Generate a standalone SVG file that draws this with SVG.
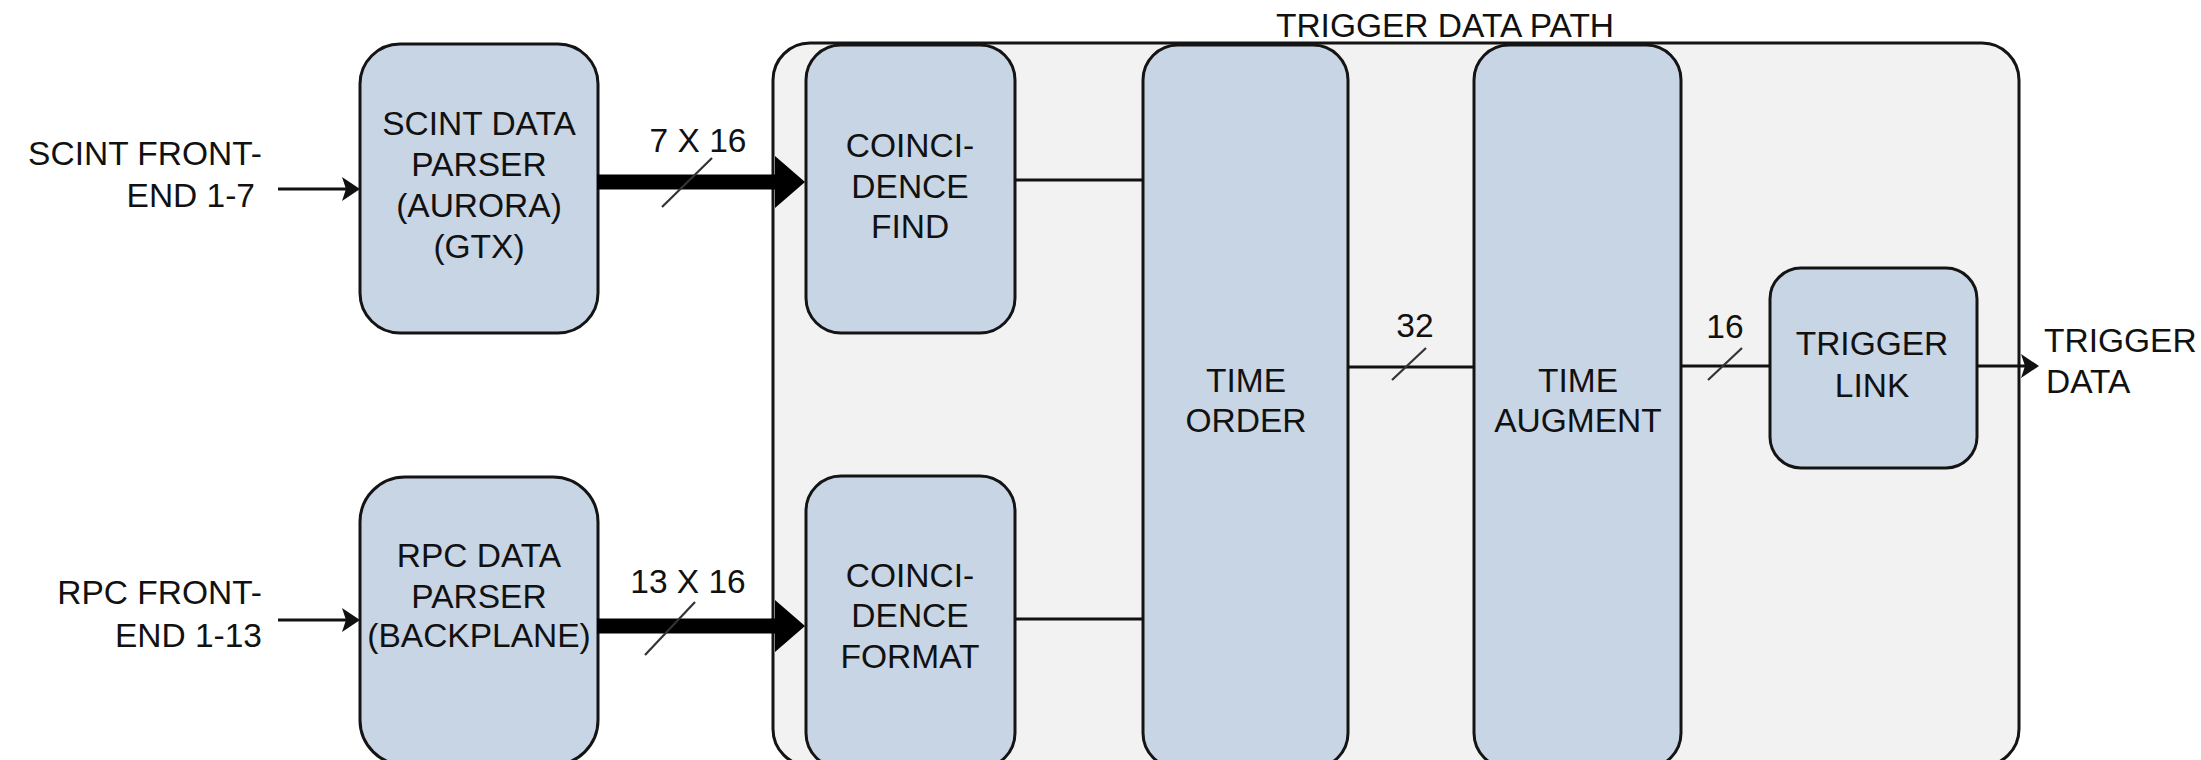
<svg xmlns="http://www.w3.org/2000/svg" width="2201" height="760" viewBox="0 0 2201 760">
<defs>
<style>
.box{fill:#c8d5e5;stroke:#141414;stroke-width:3}
.cont{fill:#f2f2f2;stroke:#141414;stroke-width:3}
.t{font-family:"Liberation Sans",Arial,sans-serif;font-size:33.5px;fill:#111}
.m{text-anchor:middle}
.e{text-anchor:end}
.ln{stroke:#111;stroke-width:3;fill:none}
.thick{stroke:#000;stroke-width:15;fill:none}
.sl{stroke:#333;stroke-width:2.2;fill:none}
</style>
<marker id="ah" markerUnits="userSpaceOnUse" markerWidth="20" markerHeight="24" refX="4" refY="12" orient="auto" overflow="visible">
<path d="M0,0 L18,12 L0,24 L4,12 Z" fill="#111"/>
</marker>
<marker id="big" markerUnits="userSpaceOnUse" markerWidth="32" markerHeight="52" refX="2" refY="26" orient="auto" overflow="visible">
<path d="M0,0 L30,26 L0,52 Z" fill="#000"/>
</marker>
</defs>
<rect width="2201" height="760" fill="#fff"/>

<g id="trigger_data_path">
<rect class="cont" x="773" y="43" width="1246" height="723" rx="37"/>
<text class="t m" x="1445" y="37">TRIGGER DATA PATH</text>
</g>

<g id="scint_input_label">
<text class="t e" x="262" y="165">SCINT FRONT-</text>
<text class="t e" x="255" y="207">END 1-7</text>
</g>
<g id="rpc_input_label">
<text class="t e" x="262" y="604">RPC FRONT-</text>
<text class="t e" x="262" y="647">END 1-13</text>
</g>

<g id="scint_parser">
<rect class="box" x="360" y="44" width="238" height="289" rx="40"/>
<text class="t m" x="479" y="135">SCINT DATA</text>
<text class="t m" x="479" y="176">PARSER</text>
<text class="t m" x="479" y="217">(AURORA)</text>
<text class="t m" x="479" y="258">(GTX)</text>
</g>

<g id="rpc_parser">
<rect class="box" x="360" y="477" width="238" height="288" rx="45"/>
<text class="t m" x="479" y="567">RPC DATA</text>
<text class="t m" x="479" y="608">PARSER</text>
<text class="t m" x="479" y="647">(BACKPLANE)</text>
</g>

<g id="coincidence_find">
<rect class="box" x="806" y="45" width="209" height="288" rx="35"/>
<text class="t m" x="910" y="157">COINCI-</text>
<text class="t m" x="910" y="198">DENCE</text>
<text class="t m" x="910" y="238">FIND</text>
</g>

<g id="coincidence_format">
<rect class="box" x="806" y="476" width="209" height="292" rx="35"/>
<text class="t m" x="910" y="587">COINCI-</text>
<text class="t m" x="910" y="627">DENCE</text>
<text class="t m" x="910" y="668">FORMAT</text>
</g>

<g id="time_order">
<rect class="box" x="1143" y="45" width="205" height="723" rx="35"/>
<text class="t m" x="1246" y="392">TIME</text>
<text class="t m" x="1246" y="432">ORDER</text>
</g>

<g id="time_augment">
<rect class="box" x="1474" y="45" width="207" height="723" rx="35"/>
<text class="t m" x="1578" y="392">TIME</text>
<text class="t m" x="1578" y="432">AUGMENT</text>
</g>

<g id="trigger_link">
<rect class="box" x="1770" y="268" width="207" height="200" rx="31"/>
<text class="t m" x="1872" y="355">TRIGGER</text>
<text class="t m" x="1872" y="397">LINK</text>
</g>

<g id="trigger_output_label">
<text class="t" x="2044" y="352">TRIGGER</text>
<text class="t" x="2046" y="393">DATA</text>
</g>

<g id="connectors">
<line class="ln" x1="278" y1="189" x2="346" y2="189" marker-end="url(#ah)"/>
<line class="ln" x1="278" y1="620" x2="346" y2="620" marker-end="url(#ah)"/>
<line class="thick" x1="597" y1="182" x2="777" y2="182" marker-end="url(#big)"/>
<line class="thick" x1="597" y1="626" x2="777" y2="626" marker-end="url(#big)"/>
<line class="sl" x1="662" y1="207" x2="712" y2="158"/>
<line class="sl" x1="645" y1="655" x2="695" y2="602"/>
<text class="t m" x="698" y="152">7 X 16</text>
<text class="t m" x="688" y="593">13 X 16</text>
<line class="ln" x1="1015" y1="180" x2="1143" y2="180"/>
<line class="ln" x1="1015" y1="619" x2="1143" y2="619"/>
<line class="ln" x1="1348" y1="367" x2="1474" y2="367"/>
<line class="sl" x1="1392" y1="380" x2="1426" y2="348"/>
<text class="t m" x="1415" y="337">32</text>
<line class="ln" x1="1681" y1="366" x2="1770" y2="366"/>
<line class="sl" x1="1708" y1="380" x2="1742" y2="348"/>
<text class="t m" x="1725" y="338">16</text>
<line class="ln" x1="1977" y1="366" x2="2025" y2="366" marker-end="url(#ah)"/>
</g>
</svg>
